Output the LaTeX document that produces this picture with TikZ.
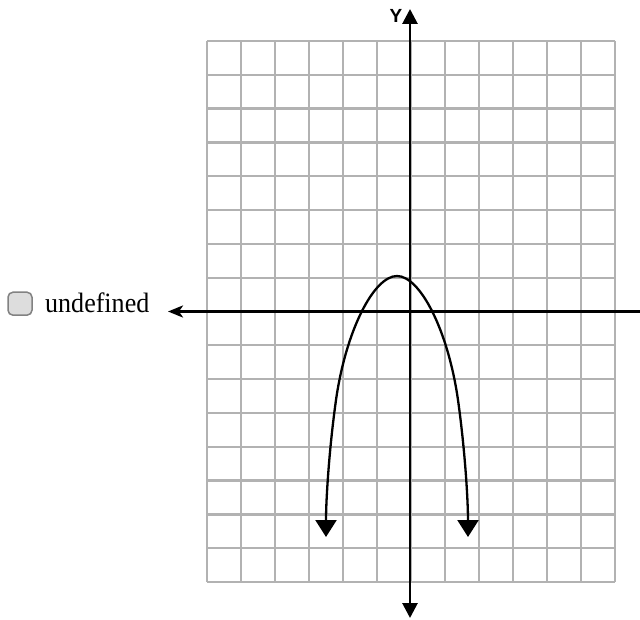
\documentclass[tikz,border=0pt]{standalone}
\usepackage{fontspec}
\setmainfont{Liberation Serif}
\newfontfamily\axisfont{Liberation Sans}
\usetikzlibrary{arrows.meta}
\definecolor{gridgray}{RGB}{178,178,178}
\definecolor{boxfill}{RGB}{221,221,221}
\definecolor{boxedge}{RGB}{130,130,130}
\begin{document}
\begin{tikzpicture}[x=1pt,y=-1pt,
  gridline/.style={draw=gridgray, line width=2.3pt},
  axisline/.style={draw=black, line width=2.8pt},
  curveline/.style={draw=black, line width=2.3pt},
  checkbox/.style={draw=boxedge, fill=boxfill, rounded corners=5pt, line width=1.5pt,
    minimum width=24pt, minimum height=23pt, inner sep=0pt},
  labeltext/.style={inner sep=0pt, font=\fontsize{28}{32}\selectfont},
  axislabel/.style={inner sep=0pt, font=\axisfont\bfseries\fontsize{19}{21}\selectfont}]
\useasboundingbox (0,0) rectangle (640,620);
\fill[white] (0,0) rectangle (640,620);
% grid
\foreach \i in {0,...,12}
  \draw[gridline] ({207+34*\i},41) -- ({207+34*\i},582);
\foreach \j in {0,...,16}
  \draw[gridline] (207,{41+33.8125*\j}) -- (615,{41+33.8125*\j});
% axes
\coordinate (ytop) at (410,9);
\coordinate (ybot) at (410,618);
\coordinate (xleft) at (168,311.5);
\coordinate (xright) at (640,311.5);
\draw[axisline, {Triangle[width=15pt,length=15pt]}-{Triangle[width=15pt,length=15pt]}] (ybot) -- (ytop);
\draw[axisline, {Stealth[width=12pt,length=15pt,inset=4pt]}-] (xleft) -- (xright);
\node[axislabel] (ylab) at (396,16) {Y};
% curve
\coordinate (ltip) at (326,537);
\coordinate (rtip) at (468,537);
\coordinate (vert) at (397,276);
\draw[curveline, {Triangle[width=21pt,length=17pt]}-{Triangle[width=21pt,length=17pt]}]
  (ltip) .. controls (326,500) and (329,450) .. (336,400)
         .. controls (346,330) and (374,276) .. (vert)
         .. controls (420,276) and (448,330) .. (458,400)
         .. controls (465,450) and (468,500) .. (rtip);
% legend
\node[checkbox] (cb) at (20,303.7) {};
\node[labeltext, anchor=base west] (lbl) at (45,313) {\scalebox{0.93}[1]{undefined}};
\end{tikzpicture}
\end{document}
